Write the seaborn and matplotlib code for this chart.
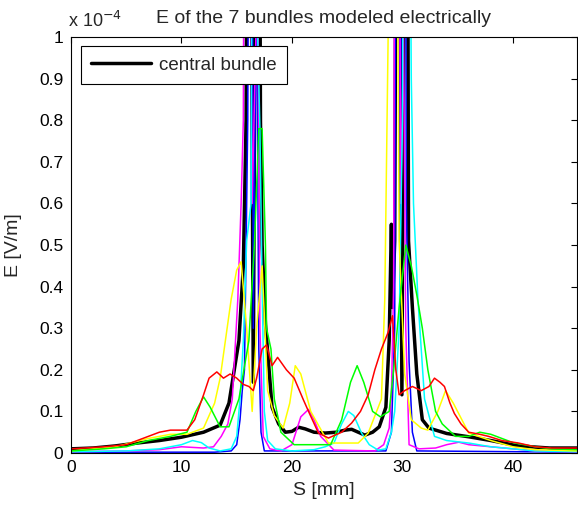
import numpy as np
import pandas as pd
import matplotlib
matplotlib.use("Agg")
import matplotlib.pyplot as plt
import seaborn as sns

# E values in units of 1e-4 V/m, S in mm
s_central = [0, 2, 4, 6, 8, 10, 12, 13.5, 14.3, 15.2, 15.6, 15.85, 15.95, 16.25, 16.5, 16.75, 17.05, 17.15,
             17.3, 17.6, 18.2, 18.8, 19.4, 20.0, 20.6, 21.2, 22.0, 23.0, 24.0, 24.8, 25.4, 26.0, 26.6,
             27.3, 27.9, 28.5, 28.8, 29.0, 29.1, 29.3, 29.45, 29.7, 29.95, 30.2, 30.45, 30.55, 30.9,
             31.3, 31.8, 32.4, 34.0, 36.0, 38.0, 40.5, 43.3, 45.8]
e_central = [0.01, 0.012, 0.017, 0.024, 0.03, 0.038, 0.05, 0.067, 0.12, 0.27, 0.45, 0.8, 1.6, 1.6, 0.17,
             1.6, 1.6, 0.8, 0.5, 0.31, 0.11, 0.07, 0.05, 0.052, 0.062, 0.058, 0.05, 0.048, 0.05, 0.055,
             0.057, 0.05, 0.043, 0.05, 0.063, 0.11, 0.27, 0.55, 0.35, 0.51, 1.6, 1.6, 0.14, 1.6, 1.6,
             0.51, 0.35, 0.19, 0.08, 0.06, 0.047, 0.039, 0.03, 0.017, 0.012, 0.012]

s_red = [0, 3, 5, 7, 8, 9, 10.5, 11.2, 12, 12.5, 13.2, 13.8, 14.4, 15.0, 15.6, 16.1, 16.5, 16.8, 17.3,
         17.7, 18.2, 18.7, 19.5, 20.2, 21.0, 21.5, 22.4, 23.3, 24.5, 25.4, 26.2, 26.9, 27.5, 28.1, 28.7,
         29.1, 29.4, 29.7, 30.2, 30.9, 31.7, 32.4, 32.9, 33.4, 33.8, 34.3, 34.7, 35.3, 36, 37, 37.8, 39,
         40.5, 42, 43.5, 45.8]
e_red = [0.01, 0.015, 0.02, 0.04, 0.05, 0.055, 0.055, 0.08, 0.14, 0.18, 0.195, 0.18, 0.19, 0.18, 0.165,
         0.16, 0.15, 0.18, 0.25, 0.26, 0.21, 0.23, 0.2, 0.18, 0.13, 0.1, 0.048, 0.036, 0.05, 0.072, 0.1,
         0.14, 0.2, 0.25, 0.29, 0.33, 0.2, 0.14, 0.15, 0.16, 0.15, 0.16, 0.18, 0.17, 0.16, 0.12, 0.095,
         0.07, 0.05, 0.045, 0.04, 0.03, 0.024, 0.015, 0.012, 0.012]

s_green = [0, 3, 5, 7, 9, 10.5, 11.3, 12, 12.6, 13.5, 14.3, 15.2, 16.1, 16.6, 17.0, 17.3, 17.6, 17.7,
           18.1, 18.4, 19.0, 20.2, 21.1, 23.5, 24.5, 25.3, 25.9, 26.5, 27.3, 28.0, 28.8, 29.2, 29.7,
           30.3, 30.8, 31.3, 31.8, 32.3, 33.0, 33.6, 34.8, 36, 37, 38, 40, 42, 43.5, 45.8]
e_green = [0.005, 0.01, 0.015, 0.03, 0.04, 0.05, 0.1, 0.135, 0.11, 0.063, 0.063, 0.13, 0.27, 0.5, 0.78,
           0.78, 0.5, 0.3, 0.25, 0.13, 0.05, 0.02, 0.02, 0.02, 0.08, 0.17, 0.21, 0.17, 0.1, 0.087, 0.1,
           0.2, 0.35, 0.5, 0.45, 0.38, 0.3, 0.2, 0.1, 0.07, 0.04, 0.04, 0.05, 0.045, 0.025, 0.015, 0.01,
           0.008]

s_yellow = [0, 4, 7, 9, 10.5, 12, 13, 13.5, 14.5, 15.0, 15.4, 15.9, 16.4, 16.8, 17.3, 17.8, 18.4, 19.2,
            19.8, 20.3, 20.8, 21.7, 23.3, 26.0, 26.9, 28.1, 28.4, 28.8, 29.2, 29.7, 30.2, 30.8, 31.7,
            32.3, 33.2, 33.9, 34.6, 36, 38, 40, 42, 45.8]
e_yellow = [0.005, 0.015, 0.035, 0.045, 0.045, 0.06, 0.12, 0.18, 0.37, 0.44, 0.46, 0.3, 0.1, 0.3, 0.45,
            0.15, 0.09, 0.06, 0.12, 0.21, 0.19, 0.1, 0.024, 0.024, 0.048, 0.13, 0.37, 1.2, 3.0, 0.51, 0.19,
            0.08, 0.06, 0.055, 0.1, 0.15, 0.12, 0.048, 0.03, 0.015, 0.008, 0.005]

s_cyan = [0, 5, 8, 10, 11, 11.8, 12.5, 13.5, 14.5, 15.0, 15.3, 15.6, 15.9, 16.3, 16.6, 16.9, 17.1, 17.3,
          17.5, 17.8, 18.5, 20, 22, 23, 23.8, 24.5, 25.1, 25.6, 26.3, 27, 27.8, 28.5, 29.0, 29.3, 29.7,
          30.0, 30.3, 30.8, 31.0, 31.4, 32, 32.9, 34, 36, 38, 40, 42, 45.8]
e_cyan = [0.003, 0.005, 0.01, 0.02, 0.03, 0.025, 0.012, 0.005, 0.01, 0.04, 0.13, 0.27, 0.51, 0.6, 3.0,
          1.0, 0.78, 0.4, 0.1, 0.03, 0.01, 0.005, 0.008, 0.015, 0.024, 0.07, 0.1, 0.09, 0.048, 0.02,
          0.007, 0.01, 0.05, 0.1, 0.3, 0.8, 3.0, 0.9, 0.6, 0.37, 0.13, 0.04, 0.03, 0.024, 0.015, 0.01,
          0.005, 0.003]

s_magenta = [0, 5, 8, 10, 12, 12.9, 13.6, 14.2, 14.6, 15.1, 15.4, 15.6, 15.85, 16.4, 16.9, 17.1, 17.4,
             18.0, 19, 20, 20.8, 21.5, 22, 22.6, 23.8, 27.5, 28.3, 28.8, 29.0, 29.2, 29.45, 29.85, 30.1,
             30.3, 30.6, 31.5, 33, 34, 35.1, 36, 38, 40, 42, 45.8]
e_magenta = [0.003, 0.005, 0.008, 0.015, 0.012, 0.015, 0.04, 0.07, 0.13, 0.37, 0.6, 0.8, 3.0, 0.6, 1.2,
             0.3, 0.04, 0.01, 0.005, 0.02, 0.087, 0.105, 0.08, 0.04, 0.007, 0.005, 0.02, 0.06, 0.14, 0.4,
             3.0, 0.6, 1.0, 0.3, 0.02, 0.01, 0.012, 0.02, 0.026, 0.02, 0.015, 0.01, 0.005, 0.003]

s_blue = [0, 13, 14.5, 15.0, 15.3, 15.5, 15.7, 16.0, 16.3, 16.5, 16.8, 17.0, 17.2, 17.5, 28.5, 29.0,
          29.3, 29.55, 29.8, 30.15, 30.35, 30.6, 30.9, 31.3, 45.8]
e_blue = [0.002, 0.002, 0.005, 0.02, 0.08, 0.15, 0.2, 0.8, 3.0, 0.3, 1.2, 0.25, 0.05, 0.005, 0.005, 0.05,
          0.3, 3.0, 0.5, 3.0, 0.6, 0.22, 0.05, 0.005, 0.002]

colors = {"blue": "#0000ff", "magenta": "#ff00ff", "cyan": "#00ffff",
          "yellow": "#ffff00", "green": "#00ff00", "red": "#ff0000"}
others = [("blue", s_blue, e_blue), ("magenta", s_magenta, e_magenta), ("cyan", s_cyan, e_cyan),
          ("yellow", s_yellow, e_yellow), ("green", s_green, e_green), ("red", s_red, e_red)]

sns.set_style("white")
plt.rcParams["font.family"] = ["Liberation Sans", "DejaVu Sans"]

fig = plt.figure(figsize=(5.78, 5.09), dpi=100)
ax = fig.add_axes([0.1228, 0.110, 0.8755, 0.817])

df_c = pd.DataFrame({"S": s_central, "E": e_central})
sns.lineplot(data=df_c, x="S", y="E", color="black", linewidth=2.5, sort=False,
             estimator=None, label="central bundle", ax=ax)
for name, s, e in others:
    d = pd.DataFrame({"S": s, "E": e})
    sns.lineplot(data=d, x="S", y="E", color=colors[name], linewidth=1.1, sort=False,
                 estimator=None, legend=False, ax=ax)

ax.set_xlim(0, 45.8)
ax.set_ylim(0, 1)
ax.set_xticks([0, 10, 20, 30, 40])
ax.set_yticks(np.round(np.arange(0, 1.01, 0.1), 1))
ax.yaxis.set_major_formatter(matplotlib.ticker.FormatStrFormatter("%g"))
ax.tick_params(direction="in", length=4, width=0.8, top=True, right=True, labelsize=12.5, colors="black")
ax.tick_params(axis="x", pad=5)
ax.tick_params(axis="y", pad=5.5)
for sp in ax.spines.values():
    sp.set_color("black")
    sp.set_linewidth(0.8)

ax.set_xlabel("S [mm]", fontsize=14, labelpad=5)
ax.set_ylabel("E [V/m]", fontsize=14, labelpad=12)
ax.set_title("E of the 7 bundles modeled electrically", fontsize=14, pad=10)
ax.text(-0.006, 1.024, r"x 10$^{-4}$", transform=ax.transAxes, fontsize=13, ha="left", va="baseline")

leg = ax.legend(loc="upper left", bbox_to_anchor=(0.02, 0.978), fontsize=13.5, handlelength=3.2,
                handletextpad=0.4, fancybox=False, framealpha=1, edgecolor="black", borderpad=0.55,
                borderaxespad=0)
leg.get_frame().set_linewidth(0.8)

fig.savefig("out.png", dpi=100, facecolor="white")
